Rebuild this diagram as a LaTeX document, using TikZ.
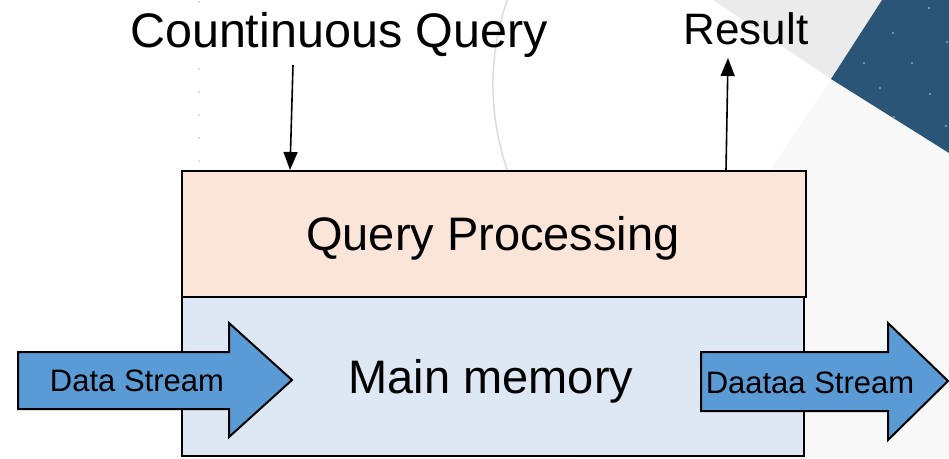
\documentclass[tikz,border=0pt]{standalone}
\usepackage{fontspec}
\setmainfont{Liberation Sans}
\usetikzlibrary{arrows.meta}
\definecolor{peach}{HTML}{FAE5D8}
\definecolor{memblue}{HTML}{DEE8F4}
\definecolor{arrblue}{HTML}{5B9BD5}
\definecolor{navy}{HTML}{2A5577}
\definecolor{lgray}{HTML}{EBEBEB}
\definecolor{vlgray}{HTML}{F8F8F8}
\definecolor{arcgray}{HTML}{DCDCDC}
\definecolor{dotblue}{HTML}{8FA8BD}
\tikzset{
  boxstyle/.style={draw=black, line width=2.2pt},
  fatarrow/.style={draw=black, line width=2pt, fill=arrblue, line join=miter},
  bigtext/.style={inner sep=0pt, anchor=base, font=\fontsize{47}{50}\selectfont},
  smalltext/.style={inner sep=0pt, anchor=base, font=\fontsize{31}{34}\selectfont},
  conn/.style={draw=black, line width=1.6pt, -{Triangle[length=18pt,width=14pt]}},
}
\begin{document}
\begin{tikzpicture}[x=1pt,y=-1pt]
\useasboundingbox (0,0) rectangle (949,458);
% background decorations
\fill[white] (0,0) rectangle (949,458);
\fill[vlgray] (831,79) -- (949,153) -- (949,458) -- (577,458) -- cycle;
\fill[lgray] (713,0) -- (882,0) -- (831,79) -- cycle;
\fill[navy] (882,0) -- (949,0) -- (949,153) -- (831,79) -- cycle;
\foreach \p in {(929,8),(893,33),(947,42),(864,63),(912,63),(880,88),(930,94),(894,117),(946,126)}
  \fill[dotblue] \p circle (1.1);
\draw[arcgray, line width=1.5pt] (753,85) ++(199:260) arc[start angle=199, end angle=110, radius=260];
\foreach \yy in {2,69,92,115,138,161}
  \fill[arcgray] (199,\yy) circle (1.4);
% boxes
\node[boxstyle, fill=memblue, minimum width=622pt, minimum height=159pt, inner sep=0pt, anchor=north west] (mm) at (181,296) {};
\node[boxstyle, fill=peach, minimum width=624pt, minimum height=126pt, inner sep=0pt, anchor=north west] (qp) at (181,170) {};
\node[bigtext] (qpt) at (493,250) {Query Processing};
\node[bigtext] (mmt) at (491,393) {Main memory};
% fat arrows
\draw[fatarrow] (18,352) -- (229,352) -- (229,323) -- (292,380) -- (229,437) -- (229,409) -- (18,409) -- cycle;
\node[smalltext] (ds1) at (137,391) {Data Stream};
\draw[fatarrow] (701,352) -- (888,352) -- (888,323) -- (948,381) -- (888,440) -- (888,411) -- (701,411) -- cycle;
\node[smalltext] (ds2) at (810,393) {Daataa Stream};
% top labels and connectors
\node[bigtext, font=\fontsize{48.5}{51}\selectfont] (cq) at (339,47) {Countinuous Query};
\node[bigtext, font=\fontsize{44}{47}\selectfont] (res) at (746,44) {Result};
\coordinate (cqs) at (293,65);
\coordinate (qin) at (290,170);
\coordinate (qout) at (726,170);
\coordinate (rese) at (728,58);
\draw[conn] (cqs) -- (qin);
\draw[conn] (qout) -- (rese);
\end{tikzpicture}
\end{document}
